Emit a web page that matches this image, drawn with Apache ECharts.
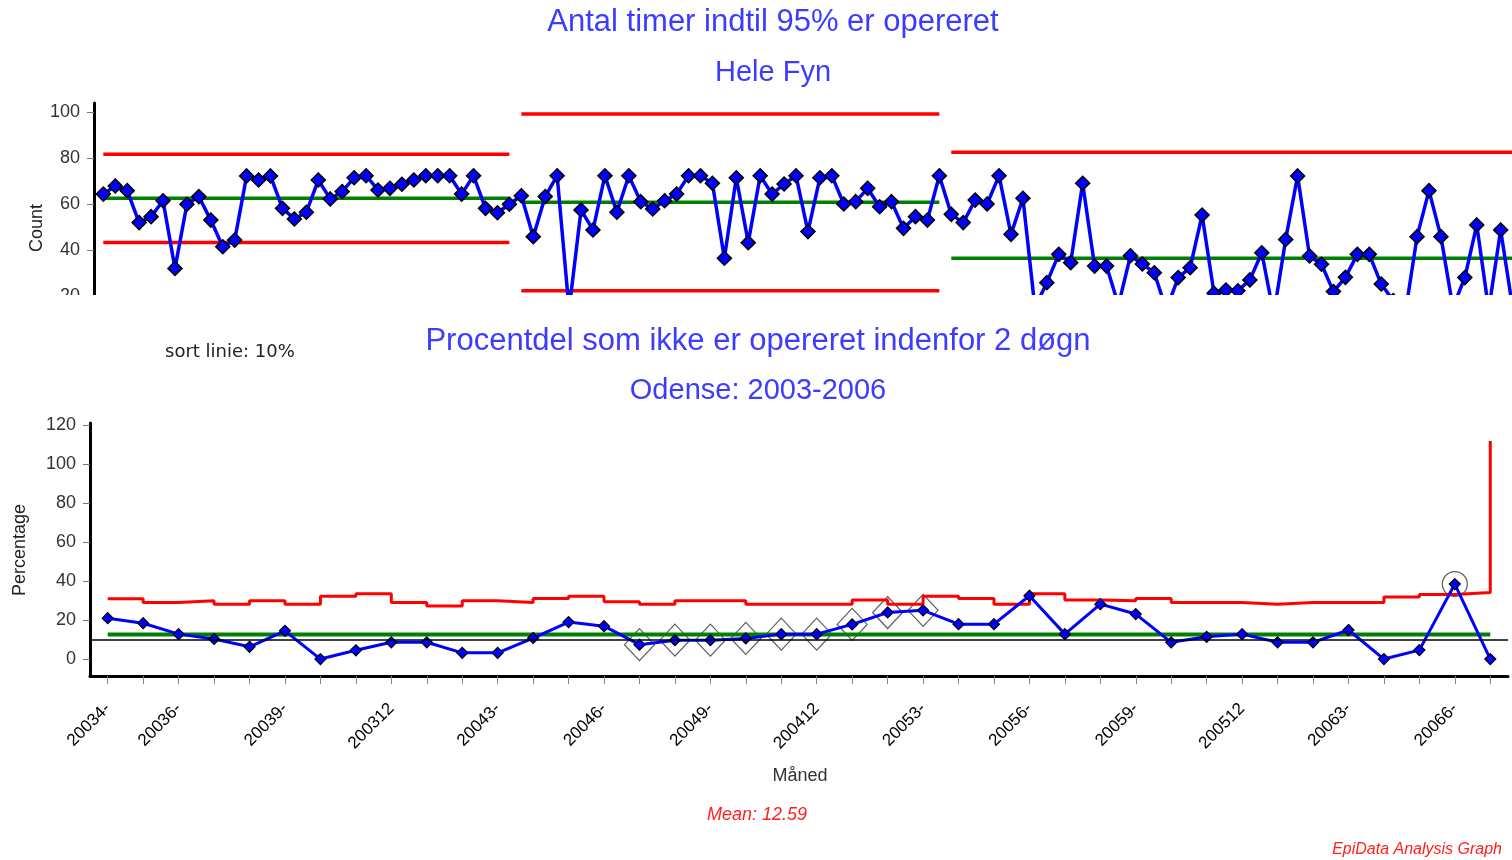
<!DOCTYPE html>
<html>
<head>
<meta charset="utf-8">
<script src="https://cdn.jsdelivr.net/npm/echarts@6/dist/echarts.min.js"></script>
<style>
html, body { margin: 0; padding: 0; background: #fff; }
#chart { width: 1512px; height: 860px; }
</style>
</head>
<body>
<div id="chart"></div>
<script>
// ---- Hele Fyn: hours until 95% operated, one value per period ----
const fynHours = [
  64.3, 67.8, 65.8, 51.9, 54.5, 61.4, 32.0, 59.9, 63.2, 53.0,
  41.4, 44.3, 72.2, 70.4, 72.2, 58.1, 53.5, 56.4, 70.4, 62.2,
  65.4, 71.4, 72.3, 66.1, 66.8, 68.6, 70.4, 72.3, 72.3, 72.3,
  64.3, 72.3, 58.1, 56.2, 59.9, 63.6, 45.8, 63.2, 72.3, 14.0,
  57.4, 48.7, 72.3, 56.4, 72.3, 61.0, 57.8, 61.4, 64.3, 72.3,
  72.3, 69.0, 36.4, 71.4, 43.2, 72.3, 64.3, 68.7, 72.3, 48.0,
  71.4, 72.3, 60.0, 61.0, 66.8, 58.8, 61.0, 49.4, 54.5, 53.0,
  72.3, 55.5, 51.9, 61.7, 60.0, 72.3, 46.8, 62.5, 15.0, 25.8,
  38.1, 34.5, 69.0, 33.0, 33.0, 16.0, 37.5, 33.9, 30.1, 14.0,
  28.0, 32.3, 55.2, 21.2, 22.6, 22.3, 27.0, 38.8, 12.0, 44.6,
  72.2, 37.4, 33.8, 21.9, 28.1, 38.1, 38.1, 25.2, 18.0, 12.0,
  45.8, 65.8, 45.8, 15.0, 28.0, 50.9, 14.0, 48.7, 15.0
];
// three phases, each with its own control limits (first/last period number)
const fynPhaseFirst = [1, 36, 72];
const fynPhaseLast = [35, 71, 122];
const fynUcl = [81.6, 99.1, 82.5];
const fynCenter = [62.5, 60.7, 36.4];
const fynLcl = [43.3, 22.3, -9.7];
const fynTicks = [0, 20, 40, 60, 80, 100];

// ---- Odense 2003-2006: percentage not operated within 2 days ----
const odenseMonths = [
  '20034-', '20035-', '20036-', '20037-', '20038-', '20039-', '200310', '200311', '200312',
  '20041-', '20042-', '20043-', '20044-', '20045-', '20046-', '20047-', '20048-', '20049-', '200410', '200411', '200412',
  '20051-', '20052-', '20053-', '20054-', '20055-', '20056-', '20057-', '20058-', '20059-', '200510', '200511', '200512',
  '20061-', '20062-', '20063-', '20064-', '20065-', '20066-', '20067-'
];
const odensePct = [
  21.0, 18.4, 12.8, 10.3, 6.3, 14.5, 0.0, 4.5, 8.6, 8.6,
  3.2, 3.2, 10.8, 19.0, 16.9, 7.4, 9.7, 9.7, 10.6, 12.8,
  12.8, 17.8, 23.9, 25.0, 17.9, 17.9, 32.5, 12.8, 28.2, 23.1,
  8.6, 11.4, 12.8, 8.6, 8.6, 14.9, 0.0, 4.6, 38.5, 0.0
];
const odenseUcl = [
  30.9, 29.0, 29.9, 28.2, 29.9, 28.2, 32.3, 33.5, 29.0, 27.2,
  29.9, 29.0, 31.1, 32.3, 29.4, 28.2, 29.9, 29.9, 28.2, 28.2,
  28.2, 30.3, 28.2, 32.3, 31.1, 28.2, 33.5, 30.3, 29.9, 31.1,
  29.0, 29.0, 28.2, 29.0, 29.0, 29.0, 31.9, 33.2, 34.2, 112.0
];
const odenseMean = 12.59;
const targetPct = 10;
const runMonthIdx = [15, 16, 17, 18, 19, 20, 21, 22, 23];
const signalMonthIdx = [38];
const monthLabelIdx = [0, 2, 5, 8, 11, 14, 17, 20, 23, 26, 29, 32, 35, 38];
const pctTicks = [0, 20, 40, 60, 80, 100, 120];

const FONT = '"Liberation Sans", Arial, sans-serif';
const WIDE_FONT = '"DejaVu Sans", Verdana, sans-serif';
const TITLE_BLUE = '#3c3cff';

// limit lines for each phase of the upper chart
function phaseLines(values, color, width, name) {
  return values.map((v, p) => ({
    name: name + (p + 1),
    type: 'line',
    xAxisIndex: 0, yAxisIndex: 0,
    data: [[fynPhaseFirst[p], v], [fynPhaseLast[p], v]],
    symbol: 'none',
    lineStyle: { color: color, width: width },
    z: 2,
    silent: true
  }));
}

const chart = echarts.init(document.getElementById('chart'), null, { renderer: 'canvas' });

const option = {
  animation: false,
  backgroundColor: '#ffffff',
  textStyle: { fontFamily: FONT },
  grid: [
    { left: 94, top: 103, width: 1418, height: 239 },
    { left: 90, top: 423, width: 1418, height: 253 }
  ],
  xAxis: [
    { gridIndex: 0, type: 'value', min: 0.22, max: 118.95, show: false },
    {
      gridIndex: 1, type: 'category', data: odenseMonths, boundaryGap: true,
      axisLine: { onZero: false, lineStyle: { color: '#000', width: 3 } },
      axisTick: { show: true, interval: 0, alignWithLabel: true, length: 8, lineStyle: { color: '#888', width: 1 } },
      axisLabel: {
        interval: (idx) => monthLabelIdx.includes(idx),
        rotate: 45, margin: 30, fontSize: 17, color: '#000', fontFamily: FONT
      },
      splitLine: { show: false }
    }
  ],
  yAxis: [
    {
      gridIndex: 0, type: 'value', min: 0, max: 103.9,
      axisLine: { show: true, lineStyle: { color: '#000', width: 3 } },
      axisTick: { show: true, customValues: fynTicks, length: 7, lineStyle: { color: '#777' } },
      axisLabel: { customValues: fynTicks, margin: 14, fontSize: 18, color: '#333', fontFamily: FONT },
      splitLine: { show: false }
    },
    {
      gridIndex: 1, type: 'value', min: -8.7, max: 121.2,
      axisLine: { show: true, lineStyle: { color: '#000', width: 3 } },
      axisTick: { show: true, customValues: pctTicks, length: 7, lineStyle: { color: '#777' } },
      axisLabel: { customValues: pctTicks, margin: 14, fontSize: 18, color: '#333', fontFamily: FONT },
      splitLine: { show: false }
    }
  ],
  series: [
    ...phaseLines(fynUcl, '#ff0000', 3.5, 'ucl'),
    ...phaseLines(fynLcl, '#ff0000', 3.5, 'lcl'),
    ...phaseLines(fynCenter, '#008000', 3.5, 'center'),
    {
      name: 'Hele Fyn', type: 'line', xAxisIndex: 0, yAxisIndex: 0,
      data: fynHours.map((v, i) => [i + 1, v]),
      symbol: 'diamond', symbolSize: 14, showAllSymbol: true,
      lineStyle: { color: '#0000ff', width: 3.5 },
      itemStyle: { color: '#0000ff', borderColor: '#000', borderWidth: 1.5 },
      z: 4
    },
    // runs around the centre line, marked with open diamonds
    {
      name: 'run', type: 'scatter', xAxisIndex: 1, yAxisIndex: 1,
      data: runMonthIdx.map(i => [i, odensePct[i]]),
      symbol: 'diamond', symbolSize: [30, 32],
      itemStyle: { color: 'rgba(0,0,0,0)', borderColor: '#333', borderWidth: 1.2 },
      z: 1, silent: true
    },
    // signal point, marked with an open circle
    {
      name: 'signal', type: 'scatter', xAxisIndex: 1, yAxisIndex: 1,
      data: signalMonthIdx.map(i => [i, odensePct[i]]),
      symbol: 'circle', symbolSize: 25,
      itemStyle: { color: 'rgba(0,0,0,0)', borderColor: '#333', borderWidth: 1.2 },
      z: 1, silent: true
    },
    {
      name: 'mean', type: 'line', xAxisIndex: 1, yAxisIndex: 1,
      data: odenseMonths.map(() => odenseMean),
      symbol: 'none', lineStyle: { color: '#008000', width: 4 }, z: 2, silent: true,
      markLine: {
        silent: true, symbol: 'none', label: { show: false },
        lineStyle: { color: '#000', width: 1.5, type: 'solid' },
        data: [{ yAxis: targetPct }]
      }
    },
    {
      name: 'ucl', type: 'line', xAxisIndex: 1, yAxisIndex: 1,
      data: odenseUcl, step: 'end',
      symbol: 'none', lineStyle: { color: '#ff0000', width: 3 }, z: 2, silent: true
    },
    {
      name: 'Odense', type: 'line', xAxisIndex: 1, yAxisIndex: 1,
      data: odensePct,
      symbol: 'diamond', symbolSize: 11, showAllSymbol: true,
      lineStyle: { color: '#0000ff', width: 3 },
      itemStyle: { color: '#0000ff', borderColor: '#000', borderWidth: 1.2 },
      z: 4
    }
  ],
  graphic: {
    elements: [
      // the upper chart is cut off just below its plotted area
      { type: 'rect', shape: { x: 0, y: 295, width: 1512, height: 62 }, style: { fill: '#ffffff' }, z: 10, silent: true },
      { type: 'text', x: 773, y: 22, z: 20, style: { text: 'Antal timer indtil 95% er opereret', fill: TITLE_BLUE, font: '31px ' + FONT, align: 'center', verticalAlign: 'middle' } },
      { type: 'text', x: 773, y: 73, z: 20, style: { text: 'Hele Fyn', fill: TITLE_BLUE, font: '29px ' + FONT, align: 'center', verticalAlign: 'middle' } },
      { type: 'text', x: 37, y: 228, rotation: Math.PI / 2, z: 20, style: { text: 'Count', fill: '#222', font: '18px ' + FONT, align: 'center', verticalAlign: 'middle' } },
      { type: 'text', x: 758, y: 341, z: 20, style: { text: 'Procentdel som ikke er opereret indenfor 2 døgn', fill: TITLE_BLUE, font: '31px ' + FONT, align: 'center', verticalAlign: 'middle' } },
      { type: 'text', x: 758, y: 391, z: 20, style: { text: 'Odense: 2003-2006', fill: TITLE_BLUE, font: '29px ' + FONT, align: 'center', verticalAlign: 'middle' } },
      { type: 'text', x: 165, y: 352, z: 20, style: { text: 'sort linie: ' + targetPct + '%', fill: '#222', font: '18px ' + WIDE_FONT, align: 'left', verticalAlign: 'middle' } },
      { type: 'text', x: 20, y: 550, rotation: Math.PI / 2, z: 20, style: { text: 'Percentage', fill: '#222', font: '18px ' + FONT, align: 'center', verticalAlign: 'middle' } },
      { type: 'text', x: 800, y: 776, z: 20, style: { text: 'Måned', fill: '#333', font: '18px ' + FONT, align: 'center', verticalAlign: 'middle' } },
      { type: 'text', x: 757, y: 815, z: 20, style: { text: 'Mean: ' + odenseMean.toFixed(2), fill: '#ff2020', font: 'italic 18px ' + FONT, align: 'center', verticalAlign: 'middle' } },
      { type: 'text', x: 1502, y: 850, z: 20, style: { text: 'EpiData Analysis Graph', fill: '#ff2020', font: 'italic 16px ' + FONT, align: 'right', verticalAlign: 'middle' } }
    ]
  }
};

chart.setOption(option);
</script>
</body>
</html>
